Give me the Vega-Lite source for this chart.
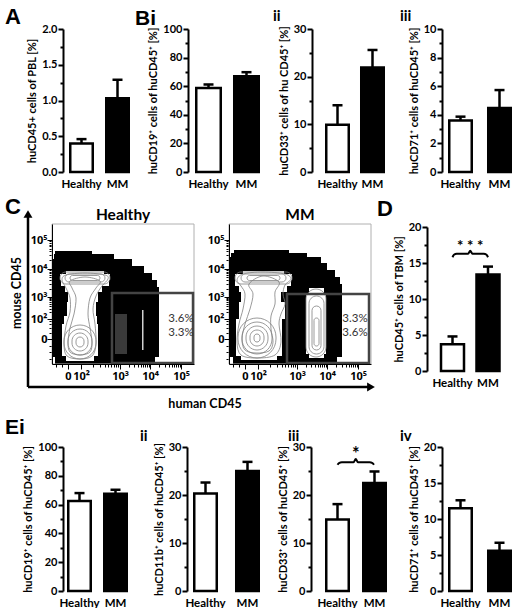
{
  "$schema": "https://vega.github.io/schema/vega-lite/v6.json",
  "padding": {"left": 5, "top": 6, "right": 5, "bottom": 0},
  "background": "white",
  "spacing": 6,
  "datasets": {
    "bars": [
      {"panel": "A", "group": "Healthy", "mean": 0.40, "upper": 0.46},
      {"panel": "A", "group": "MM", "mean": 1.03, "upper": 1.29},
      {"panel": "Bi", "group": "Healthy", "mean": 58.7, "upper": 61.2},
      {"panel": "Bi", "group": "MM", "mean": 67, "upper": 69.8},
      {"panel": "Bii", "group": "Healthy", "mean": 9.9, "upper": 14},
      {"panel": "Bii", "group": "MM", "mean": 21.9, "upper": 25.6},
      {"panel": "Biii", "group": "Healthy", "mean": 3.6, "upper": 3.87},
      {"panel": "Biii", "group": "MM", "mean": 4.47, "upper": 5.73},
      {"panel": "D", "group": "Healthy", "mean": 3.7, "upper": 4.8},
      {"panel": "D", "group": "MM", "mean": 13.4, "upper": 14.5},
      {"panel": "Ei", "group": "Healthy", "mean": 62.5, "upper": 68},
      {"panel": "Ei", "group": "MM", "mean": 67.6, "upper": 70.3},
      {"panel": "Eii", "group": "Healthy", "mean": 20.3, "upper": 22.6},
      {"panel": "Eii", "group": "MM", "mean": 25, "upper": 26.9},
      {"panel": "Eiii", "group": "Healthy", "mean": 14.9, "upper": 18.1},
      {"panel": "Eiii", "group": "MM", "mean": 22.5, "upper": 24.9},
      {"panel": "Eiv", "group": "Healthy", "mean": 11.5, "upper": 12.6},
      {"panel": "Eiv", "group": "MM", "mean": 5.6, "upper": 6.7}
    ],
    "brace": [
      {"panel": "D", "bx": 0, "by": 15.8},
      {"panel": "D", "bx": 0.04, "by": 16.15},
      {"panel": "D", "bx": 0.12, "by": 16.3},
      {"panel": "D", "bx": 0.44, "by": 16.3},
      {"panel": "D", "bx": 0.5, "by": 16.7},
      {"panel": "D", "bx": 0.56, "by": 16.3},
      {"panel": "D", "bx": 0.88, "by": 16.3},
      {"panel": "D", "bx": 0.96, "by": 16.15},
      {"panel": "D", "bx": 1, "by": 15.8},
      {"panel": "Eiii", "bx": 0, "by": 26.3},
      {"panel": "Eiii", "bx": 0.04, "by": 26.65},
      {"panel": "Eiii", "bx": 0.12, "by": 26.8},
      {"panel": "Eiii", "bx": 0.44, "by": 26.8},
      {"panel": "Eiii", "bx": 0.5, "by": 27.5},
      {"panel": "Eiii", "bx": 0.56, "by": 26.8},
      {"panel": "Eiii", "bx": 0.88, "by": 26.8},
      {"panel": "Eiii", "bx": 0.96, "by": 26.65},
      {"panel": "Eiii", "bx": 1, "by": 26.3}
    ],
    "stars": [
      {"panel": "D", "bx": 0.5, "by": 17.3, "label": "* * *"},
      {"panel": "Eiii", "bx": 0.5, "by": 28.3, "label": "*"}
    ],
    "flowRects": [
      {"plot": "Healthy", "kind": "dense", "x1": 3, "x2": 103, "y1": 0, "y2": 7},
      {"plot": "Healthy", "kind": "dense", "x1": 1, "x2": 107, "y1": 7, "y2": 77},
      {"plot": "Healthy", "kind": "dense", "x1": 1, "x2": 105, "y1": 77, "y2": 84},
      {"plot": "Healthy", "kind": "dense", "x1": 1, "x2": 100, "y1": 84, "y2": 91},
      {"plot": "Healthy", "kind": "dense", "x1": 1, "x2": 92, "y1": 91, "y2": 98},
      {"plot": "Healthy", "kind": "dense", "x1": 1, "x2": 80, "y1": 98, "y2": 105},
      {"plot": "Healthy", "kind": "dense", "x1": 2, "x2": 62, "y1": 105, "y2": 110},
      {"plot": "Healthy", "kind": "dense", "x1": 3, "x2": 40, "y1": 110, "y2": 113},
      {"plot": "Healthy", "kind": "speck", "x1": 63, "x2": 75, "y1": 10, "y2": 50},
      {"plot": "Healthy", "kind": "streak", "x1": 90, "x2": 91.5, "y1": 14, "y2": 54},
      {"plot": "Healthy", "kind": "pop", "x1": 14, "x2": 42, "y1": 3, "y2": 8},
      {"plot": "Healthy", "kind": "pop", "x1": 10, "x2": 46, "y1": 8, "y2": 40},
      {"plot": "Healthy", "kind": "pop", "x1": 12, "x2": 45, "y1": 40, "y2": 48},
      {"plot": "Healthy", "kind": "pop", "x1": 15, "x2": 44, "y1": 48, "y2": 62},
      {"plot": "Healthy", "kind": "pop", "x1": 16, "x2": 46, "y1": 62, "y2": 72},
      {"plot": "Healthy", "kind": "pop", "x1": 13, "x2": 50, "y1": 72, "y2": 78},
      {"plot": "Healthy", "kind": "pop", "x1": 9, "x2": 57, "y1": 78, "y2": 84},
      {"plot": "Healthy", "kind": "pop", "x1": 8, "x2": 58, "y1": 84, "y2": 90},
      {"plot": "Healthy", "kind": "pop", "x1": 14, "x2": 52, "y1": 90, "y2": 93},
      {"plot": "MM", "kind": "dense", "x1": 4, "x2": 108, "y1": 0, "y2": 7},
      {"plot": "MM", "kind": "dense", "x1": 1, "x2": 113, "y1": 7, "y2": 80},
      {"plot": "MM", "kind": "dense", "x1": 1, "x2": 111, "y1": 80, "y2": 87},
      {"plot": "MM", "kind": "dense", "x1": 1, "x2": 106, "y1": 87, "y2": 94},
      {"plot": "MM", "kind": "dense", "x1": 1, "x2": 98, "y1": 94, "y2": 101},
      {"plot": "MM", "kind": "dense", "x1": 1, "x2": 92, "y1": 101, "y2": 107},
      {"plot": "MM", "kind": "dense", "x1": 2, "x2": 78, "y1": 107, "y2": 111},
      {"plot": "MM", "kind": "dense", "x1": 5, "x2": 60, "y1": 111, "y2": 114},
      {"plot": "MM", "kind": "pop", "x1": 12, "x2": 48, "y1": 4, "y2": 8},
      {"plot": "MM", "kind": "pop", "x1": 7, "x2": 53, "y1": 8, "y2": 45},
      {"plot": "MM", "kind": "pop", "x1": 10, "x2": 56, "y1": 45, "y2": 62},
      {"plot": "MM", "kind": "pop", "x1": 12, "x2": 52, "y1": 62, "y2": 72},
      {"plot": "MM", "kind": "pop", "x1": 10, "x2": 58, "y1": 72, "y2": 78},
      {"plot": "MM", "kind": "pop", "x1": 6, "x2": 62, "y1": 78, "y2": 84},
      {"plot": "MM", "kind": "pop", "x1": 6, "x2": 63, "y1": 84, "y2": 90},
      {"plot": "MM", "kind": "pop", "x1": 14, "x2": 55, "y1": 90, "y2": 93},
      {"plot": "MM", "kind": "pop", "x1": 80, "x2": 95, "y1": 6, "y2": 10},
      {"plot": "MM", "kind": "pop", "x1": 77, "x2": 97, "y1": 10, "y2": 70},
      {"plot": "MM", "kind": "pop", "x1": 80, "x2": 95, "y1": 70, "y2": 76}
    ],
    "flowRings": [
      {"plot": "Healthy", "x1": 8, "x2": 58, "y1": 80, "y2": 92},
      {"plot": "Healthy", "x1": 13, "x2": 53, "y1": 82, "y2": 90},
      {"plot": "Healthy", "x1": 18, "x2": 48, "y1": 83.5, "y2": 88.5},
      {"plot": "Healthy", "x1": 12, "x2": 44, "y1": 5, "y2": 39},
      {"plot": "Healthy", "x1": 16, "x2": 40, "y1": 9, "y2": 35},
      {"plot": "Healthy", "x1": 20, "x2": 36, "y1": 13, "y2": 31},
      {"plot": "Healthy", "x1": 24, "x2": 32, "y1": 17, "y2": 27},
      {"plot": "MM", "x1": 6, "x2": 63, "y1": 80, "y2": 92},
      {"plot": "MM", "x1": 12, "x2": 57, "y1": 82, "y2": 90},
      {"plot": "MM", "x1": 18, "x2": 51, "y1": 83.5, "y2": 88.5},
      {"plot": "MM", "x1": 9, "x2": 47, "y1": 6, "y2": 46},
      {"plot": "MM", "x1": 13, "x2": 43, "y1": 10, "y2": 42},
      {"plot": "MM", "x1": 17, "x2": 39, "y1": 14, "y2": 38},
      {"plot": "MM", "x1": 21, "x2": 35, "y1": 18, "y2": 34},
      {"plot": "MM", "x1": 25, "x2": 31, "y1": 22, "y2": 30},
      {"plot": "MM", "x1": 77, "x2": 97, "y1": 7, "y2": 75},
      {"plot": "MM", "x1": 80, "x2": 95, "y1": 10, "y2": 68},
      {"plot": "MM", "x1": 83, "x2": 92, "y1": 14, "y2": 58},
      {"plot": "MM", "x1": 85, "x2": 90, "y1": 18, "y2": 46}
    ],
    "flowContours": [
      {"plot": "Healthy", "c": "H1", "x": 28, "y": 5}, {"plot": "Healthy", "c": "H1", "x": 15, "y": 8},
      {"plot": "Healthy", "c": "H1", "x": 12, "y": 20}, {"plot": "Healthy", "c": "H1", "x": 14, "y": 38},
      {"plot": "Healthy", "c": "H1", "x": 18, "y": 52}, {"plot": "Healthy", "c": "H1", "x": 18, "y": 66},
      {"plot": "Healthy", "c": "H1", "x": 14, "y": 76}, {"plot": "Healthy", "c": "H1", "x": 10, "y": 84},
      {"plot": "Healthy", "c": "H1", "x": 14, "y": 89}, {"plot": "Healthy", "c": "H1", "x": 33, "y": 91},
      {"plot": "Healthy", "c": "H1", "x": 53, "y": 89}, {"plot": "Healthy", "c": "H1", "x": 56, "y": 85},
      {"plot": "Healthy", "c": "H1", "x": 50, "y": 78}, {"plot": "Healthy", "c": "H1", "x": 44, "y": 68},
      {"plot": "Healthy", "c": "H1", "x": 41, "y": 55}, {"plot": "Healthy", "c": "H1", "x": 43, "y": 40},
      {"plot": "Healthy", "c": "H1", "x": 44, "y": 20}, {"plot": "Healthy", "c": "H1", "x": 40, "y": 8},
      {"plot": "Healthy", "c": "H2", "x": 28, "y": 9}, {"plot": "Healthy", "c": "H2", "x": 18, "y": 12},
      {"plot": "Healthy", "c": "H2", "x": 16, "y": 22}, {"plot": "Healthy", "c": "H2", "x": 18, "y": 36},
      {"plot": "Healthy", "c": "H2", "x": 22, "y": 50}, {"plot": "Healthy", "c": "H2", "x": 24, "y": 66},
      {"plot": "Healthy", "c": "H2", "x": 20, "y": 76}, {"plot": "Healthy", "c": "H2", "x": 18, "y": 83},
      {"plot": "Healthy", "c": "H2", "x": 33, "y": 87}, {"plot": "Healthy", "c": "H2", "x": 48, "y": 83},
      {"plot": "Healthy", "c": "H2", "x": 44, "y": 76}, {"plot": "Healthy", "c": "H2", "x": 38, "y": 66},
      {"plot": "Healthy", "c": "H2", "x": 36, "y": 50}, {"plot": "Healthy", "c": "H2", "x": 38, "y": 36},
      {"plot": "Healthy", "c": "H2", "x": 40, "y": 22}, {"plot": "Healthy", "c": "H2", "x": 38, "y": 12},
      {"plot": "MM", "c": "M1", "x": 28, "y": 6}, {"plot": "MM", "c": "M1", "x": 12, "y": 9},
      {"plot": "MM", "c": "M1", "x": 8, "y": 22}, {"plot": "MM", "c": "M1", "x": 10, "y": 40},
      {"plot": "MM", "c": "M1", "x": 14, "y": 55}, {"plot": "MM", "c": "M1", "x": 16, "y": 70},
      {"plot": "MM", "c": "M1", "x": 12, "y": 78}, {"plot": "MM", "c": "M1", "x": 8, "y": 84},
      {"plot": "MM", "c": "M1", "x": 14, "y": 90}, {"plot": "MM", "c": "M1", "x": 34, "y": 92},
      {"plot": "MM", "c": "M1", "x": 56, "y": 90}, {"plot": "MM", "c": "M1", "x": 62, "y": 85},
      {"plot": "MM", "c": "M1", "x": 56, "y": 79}, {"plot": "MM", "c": "M1", "x": 54, "y": 70},
      {"plot": "MM", "c": "M1", "x": 56, "y": 60}, {"plot": "MM", "c": "M1", "x": 52, "y": 50},
      {"plot": "MM", "c": "M1", "x": 50, "y": 40}, {"plot": "MM", "c": "M1", "x": 52, "y": 22},
      {"plot": "MM", "c": "M1", "x": 46, "y": 9},
      {"plot": "MM", "c": "M2", "x": 27, "y": 11}, {"plot": "MM", "c": "M2", "x": 16, "y": 14},
      {"plot": "MM", "c": "M2", "x": 13, "y": 25}, {"plot": "MM", "c": "M2", "x": 16, "y": 40},
      {"plot": "MM", "c": "M2", "x": 21, "y": 55}, {"plot": "MM", "c": "M2", "x": 24, "y": 70},
      {"plot": "MM", "c": "M2", "x": 20, "y": 80}, {"plot": "MM", "c": "M2", "x": 34, "y": 88},
      {"plot": "MM", "c": "M2", "x": 50, "y": 82}, {"plot": "MM", "c": "M2", "x": 46, "y": 72},
      {"plot": "MM", "c": "M2", "x": 46, "y": 60}, {"plot": "MM", "c": "M2", "x": 42, "y": 48},
      {"plot": "MM", "c": "M2", "x": 42, "y": 35}, {"plot": "MM", "c": "M2", "x": 44, "y": 22},
      {"plot": "MM", "c": "M2", "x": 40, "y": 13}
    ],
    "flowBoxes": [
      {"plot": "Healthy", "kind": "frame", "x1": 0, "x2": 142, "y1": 0, "y2": 140},
      {"plot": "Healthy", "kind": "gate", "x1": 60, "x2": 141, "y1": 1, "y2": 71},
      {"plot": "MM", "kind": "frame", "x1": 0, "x2": 142, "y1": 0, "y2": 140},
      {"plot": "MM", "kind": "gate", "x1": 58, "x2": 140, "y1": 1, "y2": 70}
    ],
    "flowLabels": [
      {"plot": "Healthy", "x": 129, "y": 45.5, "label": "3.6%"},
      {"plot": "Healthy", "x": 129, "y": 31.5, "label": "3.3%"},
      {"plot": "MM", "x": 126, "y": 45.5, "label": "3.3%"},
      {"plot": "MM", "x": 126, "y": 31.5, "label": "3.6%"}
    ],
    "flowText": [
      {"plot": "Healthy", "kind": "ptitle", "x": 71, "y": 149, "label": "Healthy"},
      {"plot": "MM", "kind": "ptitle", "x": 71, "y": 149, "label": "MM"},
      {"plot": "Healthy", "kind": "vtitle", "x": -35, "y": 71, "label": "mouse CD45"},
      {"plot": "Healthy", "kind": "htitle", "x": 153, "y": -40, "label": "human CD45"},
      {"plot": "Healthy", "kind": "letter", "x": -47, "y": 157, "label": "C"}
    ],
    "arrows": [
      {"x1": -24, "x2": -24, "y1": -23, "y2": 149},
      {"x1": -24, "x2": 318, "y1": -23, "y2": -23}
    ],
    "arrowHeads": [
      {"dir": "up", "x": -24, "y": 150},
      {"dir": "right", "x": 319, "y": -23}
    ]
  },
  "vconcat": [
    {
      "spacing": 0,
      "hconcat": [
        {
          "width": 72, "height": 143,
          "title": {"text": "A", "fontSize": 22, "dx": -58, "offset": -6},
          "data": {"name": "bars"},
          "transform": [{"filter": "datum.panel == 'A'"}],
          "resolve": {"axis": {"y": "independent"}},
          "layer": [
            {
              "mark": {"type": "bar", "stroke": "black", "strokeWidth": 2.5},
              "encoding": {
                "x": {"field": "group", "type": "nominal", "sort": ["Healthy", "MM"], "scale": {"range": [7.25, 65.75], "paddingInner": 0.375, "paddingOuter": 0}, "axis": {"title": null, "domain": false, "ticks": false, "labelAngle": 0, "labelPadding": 6, "labelFontSize": 11.5}},
                "y": {"field": "mean", "type": "quantitative", "scale": {"domain": [0, 2], "nice": false}, "axis": {"title": "huCD45+ cells of PBL [%]", "orient": "left", "values": [0, 0.5, 1, 1.5, 2], "format": ".1f", "labelOverlap": false}},
                "fill": {"field": "group", "type": "nominal", "scale": {"domain": ["Healthy", "MM"], "range": ["white", "black"]}, "legend": null}
              }
            },
            {
              "mark": {"type": "rule", "strokeWidth": 2.5, "color": "black"},
              "encoding": {"x": {"field": "group", "type": "nominal", "sort": ["Healthy", "MM"]}, "y": {"field": "mean", "type": "quantitative", "axis": {"orient": "left", "title": null, "labels": false, "domain": false, "values": [0.25, 0.75, 1.25, 1.75], "tickSize": 3}}, "y2": {"field": "upper"}}
            },
            {
              "mark": {"type": "tick", "thickness": 2.5, "size": 10, "color": "black", "opacity": 1},
              "encoding": {"x": {"field": "group", "type": "nominal", "sort": ["Healthy", "MM"]}, "y": {"field": "upper", "type": "quantitative", "axis": null}}
            }
          ]
        },
        {
          "width": 85, "height": 143,
          "title": {"text": "Bi", "fontSize": 21, "dx": -53, "offset": -6},
          "data": {"name": "bars"},
          "transform": [{"filter": "datum.panel == 'Bi'"}],
          "resolve": {"axis": {"y": "independent"}},
          "layer": [
            {
              "mark": {"type": "bar", "stroke": "black", "strokeWidth": 2.5},
              "encoding": {
                "x": {"field": "group", "type": "nominal", "sort": ["Healthy", "MM"], "scale": {"range": [8.25, 70.75], "paddingInner": 0.355, "paddingOuter": 0}, "axis": {"title": null, "domain": false, "ticks": false, "labelAngle": 0, "labelPadding": 6, "labelFontSize": 11.5}},
                "y": {"field": "mean", "type": "quantitative", "scale": {"domain": [0, 100], "nice": false}, "axis": {"title": "huCD19⁺ cells of huCD45⁺ [%]", "orient": "left", "values": [0, 20, 40, 60, 80, 100], "labelOverlap": false}},
                "fill": {"field": "group", "type": "nominal", "scale": {"domain": ["Healthy", "MM"], "range": ["white", "black"]}, "legend": null}
              }
            },
            {
              "mark": {"type": "rule", "strokeWidth": 2.5, "color": "black"},
              "encoding": {"x": {"field": "group", "type": "nominal", "sort": ["Healthy", "MM"]}, "y": {"field": "mean", "type": "quantitative", "axis": {"orient": "left", "title": null, "labels": false, "domain": false, "values": [10, 30, 50, 70, 90], "tickSize": 3}}, "y2": {"field": "upper"}}
            },
            {
              "mark": {"type": "tick", "thickness": 2.5, "size": 10, "color": "black", "opacity": 1},
              "encoding": {"x": {"field": "group", "type": "nominal", "sort": ["Healthy", "MM"]}, "y": {"field": "upper", "type": "quantitative", "axis": null}}
            }
          ]
        },
        {
          "width": 88, "height": 143,
          "title": {"text": "ii", "font": "Lato", "fontSize": 15, "dx": -39, "offset": -1},
          "data": {"name": "bars"},
          "transform": [{"filter": "datum.panel == 'Bii'"}],
          "resolve": {"axis": {"y": "independent"}},
          "layer": [
            {
              "mark": {"type": "bar", "stroke": "black", "strokeWidth": 2.5},
              "encoding": {
                "x": {"field": "group", "type": "nominal", "sort": ["Healthy", "MM"], "scale": {"range": [14.25, 71.75], "paddingInner": 0.357, "paddingOuter": 0}, "axis": {"title": null, "domain": false, "ticks": false, "labelAngle": 0, "labelPadding": 6, "labelFontSize": 11.5}},
                "y": {"field": "mean", "type": "quantitative", "scale": {"domain": [0, 30], "nice": false}, "axis": {"title": "huCD33⁺ cells of hu CD45⁺ [%]", "orient": "left", "values": [0, 10, 20, 30], "labelOverlap": false}},
                "fill": {"field": "group", "type": "nominal", "scale": {"domain": ["Healthy", "MM"], "range": ["white", "black"]}, "legend": null}
              }
            },
            {
              "mark": {"type": "rule", "strokeWidth": 2.5, "color": "black"},
              "encoding": {"x": {"field": "group", "type": "nominal", "sort": ["Healthy", "MM"]}, "y": {"field": "mean", "type": "quantitative", "axis": {"orient": "left", "title": null, "labels": false, "domain": false, "values": [5, 15, 25], "tickSize": 3}}, "y2": {"field": "upper"}}
            },
            {
              "mark": {"type": "tick", "thickness": 2.5, "size": 10, "color": "black", "opacity": 1},
              "encoding": {"x": {"field": "group", "type": "nominal", "sort": ["Healthy", "MM"]}, "y": {"field": "upper", "type": "quantitative", "axis": null}}
            }
          ]
        },
        {
          "width": 70, "height": 143,
          "title": {"text": "iii", "font": "Lato", "fontSize": 15, "dx": -42, "offset": -1},
          "data": {"name": "bars"},
          "transform": [{"filter": "datum.panel == 'Biii'"}],
          "resolve": {"axis": {"y": "independent"}},
          "layer": [
            {
              "mark": {"type": "bar", "stroke": "black", "strokeWidth": 2.5},
              "encoding": {
                "x": {"field": "group", "type": "nominal", "sort": ["Healthy", "MM"], "scale": {"range": [7.25, 68.75], "paddingInner": 0.423, "paddingOuter": 0}, "axis": {"title": null, "domain": false, "ticks": false, "labelAngle": 0, "labelPadding": 6, "labelFontSize": 11.5}},
                "y": {"field": "mean", "type": "quantitative", "scale": {"domain": [0, 10], "nice": false}, "axis": {"title": "huCD71⁺ cells of huCD45⁺ [%]", "orient": "left", "values": [0, 2, 4, 6, 8, 10], "labelOverlap": false}},
                "fill": {"field": "group", "type": "nominal", "scale": {"domain": ["Healthy", "MM"], "range": ["white", "black"]}, "legend": null}
              }
            },
            {
              "mark": {"type": "rule", "strokeWidth": 2.5, "color": "black"},
              "encoding": {"x": {"field": "group", "type": "nominal", "sort": ["Healthy", "MM"]}, "y": {"field": "mean", "type": "quantitative", "axis": {"orient": "left", "title": null, "labels": false, "domain": false, "values": [1, 3, 5, 7, 9], "tickSize": 3}}, "y2": {"field": "upper"}}
            },
            {
              "mark": {"type": "tick", "thickness": 2.5, "size": 10, "color": "black", "opacity": 1},
              "encoding": {"x": {"field": "group", "type": "nominal", "sort": ["Healthy", "MM"]}, "y": {"field": "upper", "type": "quantitative", "axis": null}}
            }
          ]
        }
      ]
    },
    {
      "spacing": 2,
      "hconcat": [
        {
          "width": 308, "height": 160,
          "resolve": {"scale": {"x": "independent", "y": "independent"}, "axis": {"x": "independent", "y": "independent"}},
          "layer": [
            {
              "resolve": {"axis": {"x": "independent", "y": "independent"}},
              "layer": [
                {
                  "data": {"name": "flowRects"},
                  "transform": [{"filter": "datum.plot == 'Healthy' && datum.kind == 'dense'"}],
                  "mark": {"type": "rect", "fill": "black"},
                  "encoding": {
                    "x": {"field": "x1", "type": "quantitative", "scale": {"domain": [0, 142], "range": [-11, 131], "nice": false, "zero": false},
                      "axis": {"title": null, "orient": "bottom", "offset": -20, "zindex": 1, "domainWidth": 1, "tickWidth": 1, "tickSize": 5, "labelFont": "Noto Sans", "labelFontSize": 11, "labelPadding": 1, "labelOverlap": false, "labelFlush": false,
                        "values": [16, 29, 68, 98, 129],
                        "labelExpr": "datum.value == 16 ? '0' : datum.value == 29 ? '10²' : datum.value == 68 ? '10³' : datum.value == 98 ? '10⁴' : '10⁵'"}},
                    "x2": {"field": "x2"},
                    "y": {"field": "y1", "type": "quantitative", "scale": {"domain": [0, 140], "range": [140, 0], "nice": false, "zero": false},
                      "axis": {"title": null, "orient": "left", "offset": 11, "zindex": 1, "domainWidth": 1, "tickWidth": 1, "tickSize": 5, "labelFont": "Noto Sans", "labelFontSize": 11, "labelPadding": 0, "labelOverlap": false, "labelFlush": false,
                        "values": [25, 45, 67, 95, 124],
                        "labelExpr": "datum.value == 25 ? '0' : datum.value == 45 ? '10²' : datum.value == 67 ? '10³' : datum.value == 95 ? '10⁴' : '10⁵'"}},
                    "y2": {"field": "y2"}
                  }
                },
                {
                  "data": {"name": "flowRects"},
                  "transform": [{"filter": "datum.plot == 'Healthy' && datum.kind == 'speck'"}],
                  "mark": {"type": "rect", "fill": "#3a3a3a"},
                  "encoding": {
                    "x": {"field": "x1", "type": "quantitative", "axis": {"title": null, "orient": "bottom", "offset": -20, "labels": false, "domain": false, "tickWidth": 1, "tickSize": 3,
                      "values": [4, 10, 40.7, 47.6, 52.5, 56.3, 59.3, 62, 64.2, 66.2, 77, 82.3, 86.1, 89, 91.3, 93.4, 95.1, 96.6, 107.3, 112.8, 116.7, 119.7, 122.1, 124.2, 126, 127.6]}},
                    "x2": {"field": "x2"},
                    "y": {"field": "y1", "type": "quantitative", "axis": {"title": null, "orient": "left", "offset": 11, "labels": false, "domain": false, "tickWidth": 1, "tickSize": 3,
                      "values": [5, 12, 18, 31, 36, 40, 43, 51.6, 55.5, 58.2, 60.4, 62.1, 63.6, 64.9, 66, 75.4, 80.4, 83.9, 86.6, 88.8, 90.7, 92.3, 93.7, 103.7, 108.8, 112.5, 115.3, 117.6, 119.5, 121.2, 122.7]}},
                    "y2": {"field": "y2"}
                  }
                },
                {
                  "data": {"name": "flowRects"},
                  "transform": [{"filter": "datum.plot == 'Healthy' && datum.kind == 'streak'"}],
                  "mark": {"type": "rect", "fill": "#d0d0d0"},
                  "encoding": {"x": {"field": "x1", "type": "quantitative", "axis": null}, "x2": {"field": "x2"}, "y": {"field": "y1", "type": "quantitative", "axis": null}, "y2": {"field": "y2"}}
                },
                {
                  "data": {"name": "flowRects"},
                  "transform": [{"filter": "datum.plot == 'Healthy' && datum.kind == 'pop'"}],
                  "mark": {"type": "rect", "fill": "white"},
                  "encoding": {"x": {"field": "x1", "type": "quantitative", "axis": null}, "x2": {"field": "x2"}, "y": {"field": "y1", "type": "quantitative", "axis": null}, "y2": {"field": "y2"}}
                },
                {
                  "data": {"name": "flowRings"},
                  "transform": [{"filter": "datum.plot == 'Healthy'"}],
                  "mark": {"type": "rect", "filled": false, "stroke": "#808080", "strokeWidth": 0.8, "cornerRadius": 50},
                  "encoding": {"x": {"field": "x1", "type": "quantitative", "axis": null}, "x2": {"field": "x2"}, "y": {"field": "y1", "type": "quantitative", "axis": null}, "y2": {"field": "y2"}}
                },
                {
                  "data": {"name": "flowContours"},
                  "transform": [{"filter": "datum.plot == 'Healthy'"}],
                  "mark": {"type": "line", "stroke": "#808080", "strokeWidth": 0.8, "interpolate": "cardinal-closed"},
                  "encoding": {"x": {"field": "x", "type": "quantitative", "axis": null}, "y": {"field": "y", "type": "quantitative", "axis": null}, "detail": {"field": "c"}, "order": {"value": null}}
                },
                {
                  "data": {"name": "flowBoxes"},
                  "transform": [{"filter": "datum.plot == 'Healthy' && datum.kind == 'frame'"}],
                  "mark": {"type": "rect", "filled": false, "stroke": "#b0b0b0", "strokeWidth": 1},
                  "encoding": {"x": {"field": "x1", "type": "quantitative", "axis": null}, "x2": {"field": "x2"}, "y": {"field": "y1", "type": "quantitative", "axis": null}, "y2": {"field": "y2"}}
                },
                {
                  "data": {"name": "flowBoxes"},
                  "transform": [{"filter": "datum.plot == 'Healthy' && datum.kind == 'gate'"}],
                  "mark": {"type": "rect", "filled": false, "stroke": "#444444", "strokeWidth": 2.5},
                  "encoding": {"x": {"field": "x1", "type": "quantitative", "axis": null}, "x2": {"field": "x2"}, "y": {"field": "y1", "type": "quantitative", "axis": null}, "y2": {"field": "y2"}}
                },
                {
                  "data": {"name": "flowLabels"},
                  "transform": [{"filter": "datum.plot == 'Healthy'"}],
                  "mark": {"type": "text", "font": "Lato", "fontSize": 11.5, "color": "#333333", "align": "center", "baseline": "middle"},
                  "encoding": {"x": {"field": "x", "type": "quantitative", "axis": null}, "y": {"field": "y", "type": "quantitative", "axis": null}, "text": {"field": "label"}}
                },
                {
                  "data": {"name": "arrows"},
                  "mark": {"type": "rule", "strokeWidth": 2.5, "color": "black"},
                  "encoding": {"x": {"field": "x1", "type": "quantitative", "axis": null}, "x2": {"field": "x2"}, "y": {"field": "y1", "type": "quantitative", "axis": null}, "y2": {"field": "y2"}}
                },
                {
                  "data": {"name": "arrowHeads"},
                  "mark": {"type": "point", "filled": true, "color": "black", "size": 80, "opacity": 1},
                  "encoding": {"x": {"field": "x", "type": "quantitative", "axis": null}, "y": {"field": "y", "type": "quantitative", "axis": null}, "shape": {"field": "dir", "type": "nominal", "scale": {"domain": ["up", "right"], "range": ["triangle-up", "triangle-right"]}, "legend": null}}
                },
                {
                  "data": {"name": "flowText"},
                  "transform": [{"filter": "datum.kind == 'vtitle'"}],
                  "mark": {"type": "text", "angle": 270, "font": "Lato", "fontWeight": "bold", "fontSize": 12.5, "align": "center", "baseline": "middle"},
                  "encoding": {"x": {"field": "x", "type": "quantitative", "axis": null}, "y": {"field": "y", "type": "quantitative", "axis": null}, "text": {"field": "label"}}
                },
                {
                  "data": {"name": "flowText"},
                  "transform": [{"filter": "datum.kind == 'htitle'"}],
                  "mark": {"type": "text", "font": "Lato", "fontWeight": "bold", "fontSize": 12.5, "align": "center", "baseline": "middle"},
                  "encoding": {"x": {"field": "x", "type": "quantitative", "axis": null}, "y": {"field": "y", "type": "quantitative", "axis": null}, "text": {"field": "label"}}
                },
                {
                  "data": {"name": "flowText"},
                  "transform": [{"filter": "datum.kind == 'ptitle' && datum.plot == 'Healthy'"}],
                  "mark": {"type": "text", "font": "Lato", "fontWeight": "bold", "fontSize": 15.5, "align": "center", "baseline": "middle"},
                  "encoding": {"x": {"field": "x", "type": "quantitative", "axis": null}, "y": {"field": "y", "type": "quantitative", "axis": null}, "text": {"field": "label"}}
                },
                {
                  "data": {"name": "flowText"},
                  "transform": [{"filter": "datum.kind == 'letter'"}],
                  "mark": {"type": "text", "font": "Liberation Sans", "fontWeight": "bold", "fontSize": 22, "align": "left", "baseline": "middle"},
                  "encoding": {"x": {"field": "x", "type": "quantitative", "axis": null}, "y": {"field": "y", "type": "quantitative", "axis": null}, "text": {"field": "label"}}
                }
              ]
            },
            {
              "resolve": {"axis": {"x": "independent", "y": "independent"}},
              "layer": [
                {
                  "data": {"name": "flowRects"},
                  "transform": [{"filter": "datum.plot == 'MM' && datum.kind == 'dense'"}],
                  "mark": {"type": "rect", "fill": "black"},
                  "encoding": {
                    "x": {"field": "x1", "type": "quantitative", "scale": {"domain": [0, 142], "range": [166, 308], "nice": false, "zero": false},
                      "axis": {"title": null, "orient": "bottom", "offset": -20, "zindex": 1, "domainWidth": 1, "tickWidth": 1, "tickSize": 5, "labelFont": "Noto Sans", "labelFontSize": 11, "labelPadding": 1, "labelOverlap": false, "labelFlush": false,
                        "values": [16, 29, 68, 98, 129],
                        "labelExpr": "datum.value == 16 ? '0' : datum.value == 29 ? '10²' : datum.value == 68 ? '10³' : datum.value == 98 ? '10⁴' : '10⁵'"}},
                    "x2": {"field": "x2"},
                    "y": {"field": "y1", "type": "quantitative", "scale": {"domain": [0, 140], "range": [140, 0], "nice": false, "zero": false},
                      "axis": {"title": null, "orient": "left", "offset": -166, "zindex": 1, "domainWidth": 1, "tickWidth": 1, "tickSize": 5, "labelFont": "Noto Sans", "labelFontSize": 11, "labelPadding": 0, "labelOverlap": false, "labelFlush": false,
                        "values": [25, 45, 67, 95, 124],
                        "labelExpr": "datum.value == 25 ? '0' : datum.value == 45 ? '10²' : datum.value == 67 ? '10³' : datum.value == 95 ? '10⁴' : '10⁵'"}},
                    "y2": {"field": "y2"}
                  }
                },
                {
                  "data": {"name": "flowRects"},
                  "transform": [{"filter": "datum.plot == 'MM' && datum.kind == 'pop'"}],
                  "mark": {"type": "rect", "fill": "white"},
                  "encoding": {
                    "x": {"field": "x1", "type": "quantitative", "axis": {"title": null, "orient": "bottom", "offset": -20, "labels": false, "domain": false, "tickWidth": 1, "tickSize": 3,
                      "values": [4, 10, 40.7, 47.6, 52.5, 56.3, 59.3, 62, 64.2, 66.2, 77, 82.3, 86.1, 89, 91.3, 93.4, 95.1, 96.6, 107.3, 112.8, 116.7, 119.7, 122.1, 124.2, 126, 127.6]}},
                    "x2": {"field": "x2"},
                    "y": {"field": "y1", "type": "quantitative", "axis": {"title": null, "orient": "left", "offset": -166, "labels": false, "domain": false, "tickWidth": 1, "tickSize": 3,
                      "values": [5, 12, 18, 31, 36, 40, 43, 51.6, 55.5, 58.2, 60.4, 62.1, 63.6, 64.9, 66, 75.4, 80.4, 83.9, 86.6, 88.8, 90.7, 92.3, 93.7, 103.7, 108.8, 112.5, 115.3, 117.6, 119.5, 121.2, 122.7]}},
                    "y2": {"field": "y2"}
                  }
                },
                {
                  "data": {"name": "flowRings"},
                  "transform": [{"filter": "datum.plot == 'MM'"}],
                  "mark": {"type": "rect", "filled": false, "stroke": "#808080", "strokeWidth": 0.8, "cornerRadius": 50},
                  "encoding": {"x": {"field": "x1", "type": "quantitative", "axis": null}, "x2": {"field": "x2"}, "y": {"field": "y1", "type": "quantitative", "axis": null}, "y2": {"field": "y2"}}
                },
                {
                  "data": {"name": "flowContours"},
                  "transform": [{"filter": "datum.plot == 'MM'"}],
                  "mark": {"type": "line", "stroke": "#808080", "strokeWidth": 0.8, "interpolate": "cardinal-closed"},
                  "encoding": {"x": {"field": "x", "type": "quantitative", "axis": null}, "y": {"field": "y", "type": "quantitative", "axis": null}, "detail": {"field": "c"}, "order": {"value": null}}
                },
                {
                  "data": {"name": "flowBoxes"},
                  "transform": [{"filter": "datum.plot == 'MM' && datum.kind == 'frame'"}],
                  "mark": {"type": "rect", "filled": false, "stroke": "#b0b0b0", "strokeWidth": 1},
                  "encoding": {"x": {"field": "x1", "type": "quantitative", "axis": null}, "x2": {"field": "x2"}, "y": {"field": "y1", "type": "quantitative", "axis": null}, "y2": {"field": "y2"}}
                },
                {
                  "data": {"name": "flowBoxes"},
                  "transform": [{"filter": "datum.plot == 'MM' && datum.kind == 'gate'"}],
                  "mark": {"type": "rect", "filled": false, "stroke": "#444444", "strokeWidth": 2.5},
                  "encoding": {"x": {"field": "x1", "type": "quantitative", "axis": null}, "x2": {"field": "x2"}, "y": {"field": "y1", "type": "quantitative", "axis": null}, "y2": {"field": "y2"}}
                },
                {
                  "data": {"name": "flowLabels"},
                  "transform": [{"filter": "datum.plot == 'MM'"}],
                  "mark": {"type": "text", "font": "Lato", "fontSize": 11.5, "color": "#333333", "align": "center", "baseline": "middle"},
                  "encoding": {"x": {"field": "x", "type": "quantitative", "axis": null}, "y": {"field": "y", "type": "quantitative", "axis": null}, "text": {"field": "label"}}
                },
                {
                  "data": {"name": "flowText"},
                  "transform": [{"filter": "datum.kind == 'ptitle' && datum.plot == 'MM'"}],
                  "mark": {"type": "text", "font": "Lato", "fontWeight": "bold", "fontSize": 15.5, "align": "center", "baseline": "middle"},
                  "encoding": {"x": {"field": "x", "type": "quantitative", "axis": null}, "y": {"field": "y", "type": "quantitative", "axis": null}, "text": {"field": "label"}}
                }
              ]
            }
          ]
        },
        {
          "width": 75, "height": 160,
          "title": {"text": "D", "fontSize": 22, "dx": -50, "offset": 0},
          "resolve": {"scale": {"x": "independent"}, "axis": {"x": "independent", "y": "independent"}},
          "layer": [
            {
              "data": {"name": "bars"},
              "transform": [{"filter": "datum.panel == 'D'"}],
              "resolve": {"axis": {"y": "independent"}},
              "layer": [
                {
                  "mark": {"type": "bar", "stroke": "black", "strokeWidth": 2.5},
                  "encoding": {
                    "x": {"field": "group", "type": "nominal", "sort": ["Healthy", "MM"], "scale": {"range": [14, 72.5], "paddingInner": 0.352, "paddingOuter": 0}, "axis": {"title": null, "domain": false, "ticks": false, "labelAngle": 0, "labelPadding": 6, "labelFontSize": 11.5, "offset": -13}},
                    "y": {"field": "mean", "type": "quantitative", "scale": {"domain": [0, 20], "range": [147, 3], "nice": false}, "axis": {"title": "huCD45⁺ cells of TBM [%]", "orient": "left", "values": [0, 5, 10, 15, 20], "labelOverlap": false}},
                    "fill": {"field": "group", "type": "nominal", "scale": {"domain": ["Healthy", "MM"], "range": ["white", "black"]}, "legend": null}
                  }
                },
                {
                  "mark": {"type": "rule", "strokeWidth": 2.5, "color": "black"},
                  "encoding": {"x": {"field": "group", "type": "nominal", "sort": ["Healthy", "MM"]}, "y": {"field": "mean", "type": "quantitative", "axis": {"orient": "left", "title": null, "labels": false, "domain": false, "values": [2.5, 7.5, 12.5, 17.5], "tickSize": 3}}, "y2": {"field": "upper"}}
                },
                {
                  "mark": {"type": "tick", "thickness": 2.5, "size": 10, "color": "black", "opacity": 1},
                  "encoding": {"x": {"field": "group", "type": "nominal", "sort": ["Healthy", "MM"]}, "y": {"field": "upper", "type": "quantitative", "axis": null}}
                }
              ]
            },
            {
              "layer": [
                {
                  "data": {"name": "brace"},
                  "transform": [{"filter": "datum.panel == 'D'"}],
                  "mark": {"type": "line", "color": "black", "strokeWidth": 2, "interpolate": "monotone"},
                  "encoding": {"x": {"field": "bx", "type": "quantitative", "scale": {"domain": [0, 1], "range": [25.5, 61]}, "axis": null}, "y": {"field": "by", "type": "quantitative", "axis": null}, "order": {"value": null}}
                },
                {
                  "data": {"name": "stars"},
                  "transform": [{"filter": "datum.panel == 'D'"}],
                  "mark": {"type": "text", "font": "Lato", "fontWeight": "bold", "fontSize": 15, "align": "center", "baseline": "middle"},
                  "encoding": {"x": {"field": "bx", "type": "quantitative", "axis": null}, "y": {"field": "by", "type": "quantitative", "axis": null}, "text": {"field": "label"}}
                }
              ]
            }
          ]
        }
      ]
    },
    {
      "spacing": 0,
      "hconcat": [
        {
          "width": 77, "height": 144,
          "title": {"text": "Ei", "fontSize": 21, "dx": -58, "offset": 3},
          "data": {"name": "bars"},
          "transform": [{"filter": "datum.panel == 'Ei'"}],
          "resolve": {"axis": {"y": "independent"}},
          "layer": [
            {
              "mark": {"type": "bar", "stroke": "black", "strokeWidth": 2.5},
              "encoding": {
                "x": {"field": "group", "type": "nominal", "sort": ["Healthy", "MM"], "scale": {"range": [5.25, 63.75], "paddingInner": 0.375, "paddingOuter": 0}, "axis": {"title": null, "domain": false, "ticks": false, "labelAngle": 0, "labelPadding": 6, "labelFontSize": 11.5}},
                "y": {"field": "mean", "type": "quantitative", "scale": {"domain": [0, 100], "nice": false}, "axis": {"title": "huCD19⁺ cells of huCD45⁺ [%]", "orient": "left", "values": [0, 20, 40, 60, 80, 100], "labelOverlap": false}},
                "fill": {"field": "group", "type": "nominal", "scale": {"domain": ["Healthy", "MM"], "range": ["white", "black"]}, "legend": null}
              }
            },
            {
              "mark": {"type": "rule", "strokeWidth": 2.5, "color": "black"},
              "encoding": {"x": {"field": "group", "type": "nominal", "sort": ["Healthy", "MM"]}, "y": {"field": "mean", "type": "quantitative", "axis": {"orient": "left", "title": null, "labels": false, "domain": false, "values": [10, 30, 50, 70, 90], "tickSize": 3}}, "y2": {"field": "upper"}}
            },
            {
              "mark": {"type": "tick", "thickness": 2.5, "size": 10, "color": "black", "opacity": 1},
              "encoding": {"x": {"field": "group", "type": "nominal", "sort": ["Healthy", "MM"]}, "y": {"field": "upper", "type": "quantitative", "axis": null}}
            }
          ]
        },
        {
          "width": 90, "height": 144,
          "title": {"text": "ii", "font": "Lato", "fontSize": 15, "dx": -47, "offset": -3},
          "data": {"name": "bars"},
          "transform": [{"filter": "datum.panel == 'Eii'"}],
          "resolve": {"axis": {"y": "independent"}},
          "layer": [
            {
              "mark": {"type": "bar", "stroke": "black", "strokeWidth": 2.5},
              "encoding": {
                "x": {"field": "group", "type": "nominal", "sort": ["Healthy", "MM"], "scale": {"range": [7.25, 71.75], "paddingInner": 0.464, "paddingOuter": 0}, "axis": {"title": null, "domain": false, "ticks": false, "labelAngle": 0, "labelPadding": 6, "labelFontSize": 11.5}},
                "y": {"field": "mean", "type": "quantitative", "scale": {"domain": [0, 30], "nice": false}, "axis": {"title": "huCD11b⁺ cells of huCD45⁺ [%]", "orient": "left", "values": [0, 10, 20, 30], "labelOverlap": false}},
                "fill": {"field": "group", "type": "nominal", "scale": {"domain": ["Healthy", "MM"], "range": ["white", "black"]}, "legend": null}
              }
            },
            {
              "mark": {"type": "rule", "strokeWidth": 2.5, "color": "black"},
              "encoding": {"x": {"field": "group", "type": "nominal", "sort": ["Healthy", "MM"]}, "y": {"field": "mean", "type": "quantitative", "axis": {"orient": "left", "title": null, "labels": false, "domain": false, "values": [5, 15, 25], "tickSize": 3}}, "y2": {"field": "upper"}}
            },
            {
              "mark": {"type": "tick", "thickness": 2.5, "size": 10, "color": "black", "opacity": 1},
              "encoding": {"x": {"field": "group", "type": "nominal", "sort": ["Healthy", "MM"]}, "y": {"field": "upper", "type": "quantitative", "axis": null}}
            }
          ]
        },
        {
          "width": 89, "height": 144,
          "title": {"text": "iii", "font": "Lato", "fontSize": 15, "dx": -23, "offset": -3},
          "resolve": {"scale": {"x": "independent"}, "axis": {"x": "independent", "y": "independent"}},
          "layer": [
            {
              "data": {"name": "bars"},
              "transform": [{"filter": "datum.panel == 'Eiii'"}],
              "resolve": {"axis": {"y": "independent"}},
              "layer": [
                {
                  "mark": {"type": "bar", "stroke": "black", "strokeWidth": 2.5},
                  "encoding": {
                    "x": {"field": "group", "type": "nominal", "sort": ["Healthy", "MM"], "scale": {"range": [15.25, 74.75], "paddingInner": 0.392, "paddingOuter": 0}, "axis": {"title": null, "domain": false, "ticks": false, "labelAngle": 0, "labelPadding": 6, "labelFontSize": 11.5}},
                    "y": {"field": "mean", "type": "quantitative", "scale": {"domain": [0, 30], "nice": false}, "axis": {"title": "huCD33⁺ cells of huCD45⁺ [%]", "orient": "left", "values": [0, 10, 20, 30], "labelOverlap": false}},
                    "fill": {"field": "group", "type": "nominal", "scale": {"domain": ["Healthy", "MM"], "range": ["white", "black"]}, "legend": null}
                  }
                },
                {
                  "mark": {"type": "rule", "strokeWidth": 2.5, "color": "black"},
                  "encoding": {"x": {"field": "group", "type": "nominal", "sort": ["Healthy", "MM"]}, "y": {"field": "mean", "type": "quantitative", "axis": {"orient": "left", "title": null, "labels": false, "domain": false, "values": [5, 15, 25], "tickSize": 3}}, "y2": {"field": "upper"}}
                },
                {
                  "mark": {"type": "tick", "thickness": 2.5, "size": 10, "color": "black", "opacity": 1},
                  "encoding": {"x": {"field": "group", "type": "nominal", "sort": ["Healthy", "MM"]}, "y": {"field": "upper", "type": "quantitative", "axis": null}}
                }
              ]
            },
            {
              "layer": [
                {
                  "data": {"name": "brace"},
                  "transform": [{"filter": "datum.panel == 'Eiii'"}],
                  "mark": {"type": "line", "color": "black", "strokeWidth": 2, "interpolate": "monotone"},
                  "encoding": {"x": {"field": "bx", "type": "quantitative", "scale": {"domain": [0, 1], "range": [26.5, 63]}, "axis": null}, "y": {"field": "by", "type": "quantitative", "axis": null}, "order": {"value": null}}
                },
                {
                  "data": {"name": "stars"},
                  "transform": [{"filter": "datum.panel == 'Eiii'"}],
                  "mark": {"type": "text", "font": "Lato", "fontWeight": "bold", "fontSize": 18, "align": "center", "baseline": "middle"},
                  "encoding": {"x": {"field": "bx", "type": "quantitative", "axis": null}, "y": {"field": "by", "type": "quantitative", "axis": null}, "text": {"field": "label"}}
                }
              ]
            }
          ]
        },
        {
          "width": 70, "height": 144,
          "title": {"text": "iv", "font": "Lato", "fontSize": 15, "dx": -42, "offset": -3},
          "data": {"name": "bars"},
          "transform": [{"filter": "datum.panel == 'Eiv'"}],
          "resolve": {"axis": {"y": "independent"}},
          "layer": [
            {
              "mark": {"type": "bar", "stroke": "black", "strokeWidth": 2.5},
              "encoding": {
                "x": {"field": "group", "type": "nominal", "sort": ["Healthy", "MM"], "scale": {"range": [7.25, 68.75], "paddingInner": 0.423, "paddingOuter": 0}, "axis": {"title": null, "domain": false, "ticks": false, "labelAngle": 0, "labelPadding": 6, "labelFontSize": 11.5}},
                "y": {"field": "mean", "type": "quantitative", "scale": {"domain": [0, 20], "nice": false}, "axis": {"title": "huCD71⁺ cells of huCD45⁺ [%]", "orient": "left", "values": [0, 5, 10, 15, 20], "labelOverlap": false}},
                "fill": {"field": "group", "type": "nominal", "scale": {"domain": ["Healthy", "MM"], "range": ["white", "black"]}, "legend": null}
              }
            },
            {
              "mark": {"type": "rule", "strokeWidth": 2.5, "color": "black"},
              "encoding": {"x": {"field": "group", "type": "nominal", "sort": ["Healthy", "MM"]}, "y": {"field": "mean", "type": "quantitative", "axis": {"orient": "left", "title": null, "labels": false, "domain": false, "values": [2.5, 7.5, 12.5, 17.5], "tickSize": 3}}, "y2": {"field": "upper"}}
            },
            {
              "mark": {"type": "tick", "thickness": 2.5, "size": 10, "color": "black", "opacity": 1},
              "encoding": {"x": {"field": "group", "type": "nominal", "sort": ["Healthy", "MM"]}, "y": {"field": "upper", "type": "quantitative", "axis": null}}
            }
          ]
        }
      ]
    }
  ],
  "config": {
    "view": {"stroke": null},
    "font": "Lato",
    "axis": {"grid": false, "labelOverlap": false, "domainColor": "black", "tickColor": "black", "labelColor": "black", "titleColor": "black", "labelFont": "Lato", "titleFont": "Lato", "labelFontWeight": "bold", "titleFontWeight": "bold", "domainWidth": 2, "tickWidth": 2, "tickSize": 5, "labelFontSize": 11, "titleFontSize": 11, "titlePadding": 4, "labelPadding": 1},
    "title": {"font": "Liberation Sans", "fontWeight": "bold", "color": "black", "anchor": "start", "frame": "group", "baseline": "alphabetic"},
    "text": {"font": "Lato", "color": "black"}
  }
}
